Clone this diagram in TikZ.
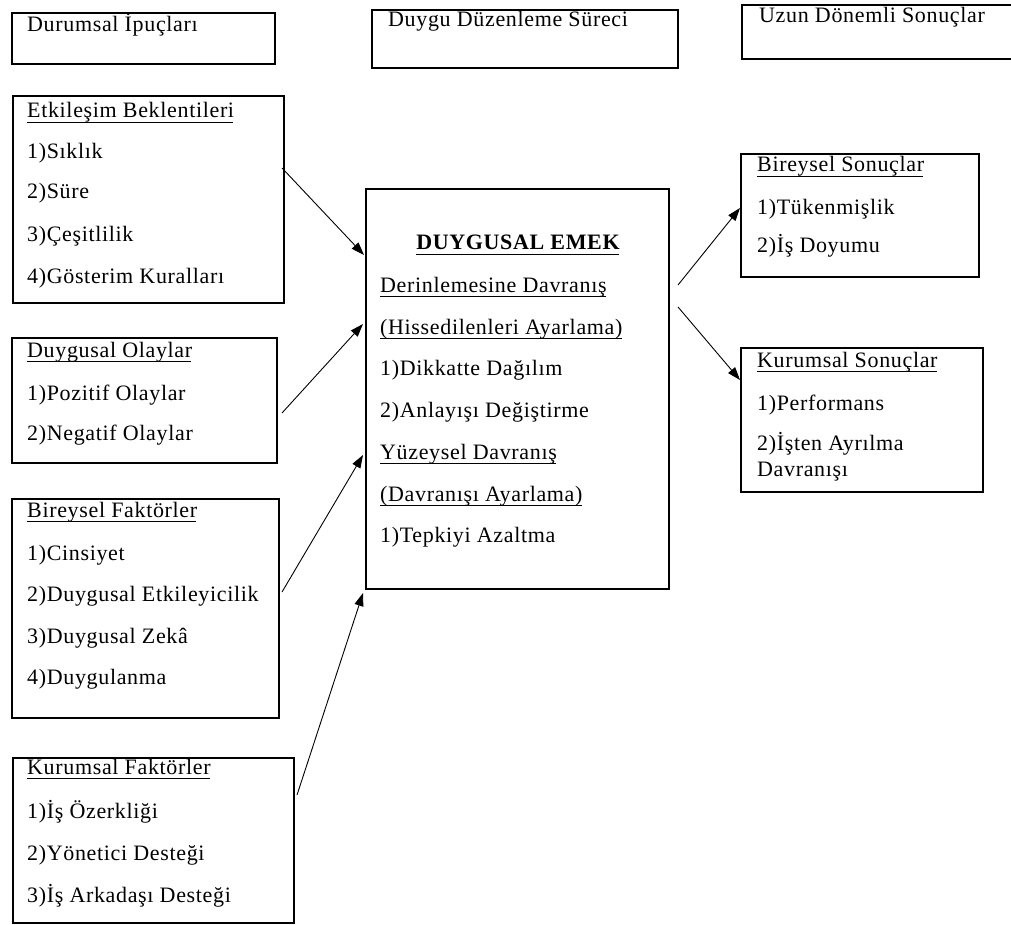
\documentclass[tikz,border=0pt]{standalone}
\usepackage{fontspec}
\setmainfont{Liberation Serif}[LetterSpace=3]
\usetikzlibrary{arrows.meta}
\tikzset{
  bx/.style={draw, line width=1.6pt, rectangle, inner sep=0pt, anchor=north west},
  tx/.style={anchor=base west, inner sep=0pt, font=\fontsize{22}{25}\selectfont},
  arr/.style={line width=0.9pt, -{Triangle[length=13pt,width=9pt]}},
  ulin/.style={line width=1.4pt}
}
\begin{document}
\begin{tikzpicture}[x=1pt,y=-1pt]
\useasboundingbox (0,0) rectangle (1011,925);
% top header boxes
\node[bx, minimum width=263pt, minimum height=51pt] (dur) at (11,12) {};
\node[tx] (durt) at (27,32) {Durumsal İpuçları};
\node[bx, minimum width=306pt, minimum height=58pt] (ddz) at (371,9) {};
\node[tx] (ddzt) at (388,27) {Duygu Düzenleme Süreci};
\node[bx, minimum width=275pt, minimum height=54pt] (uzun) at (741,4) {};
\node[tx] (uzunt) at (759,23) {Uzun Dönemli Sonuçlar};

% Etkileşim Beklentileri
\node[bx, minimum width=271pt, minimum height=207pt] (etk) at (12,95) {};
\node[tx] (etk0) at (27,118) {Etkileşim Beklentileri};
\node[tx] (etk1) at (27,159) {1)Sıklık};
\node[tx] (etk2) at (27,199) {2)Süre};
\node[tx] (etk3) at (27,241) {3)Çeşitlilik};
\node[tx] (etk4) at (27,283) {4)Gösterim Kuralları};

% Duygusal Olaylar
\node[bx, minimum width=265pt, minimum height=125pt] (olay) at (11,337) {};
\node[tx] (olay0) at (27,357) {Duygusal Olaylar};
\node[tx] (olay1) at (27,400) {1)Pozitif Olaylar};
\node[tx] (olay2) at (27,440) {2)Negatif Olaylar};

% Bireysel Faktörler
\node[bx, minimum width=267pt, minimum height=219pt] (bf) at (11,498) {};
\node[tx] (bf0) at (27,517) {Bireysel Faktörler};
\node[tx] (bf1) at (27,560) {1)Cinsiyet};
\node[tx] (bf2) at (27,601) {2)Duygusal Etkileyicilik};
\node[tx] (bf3) at (27,643) {3)Duygusal Zekâ};
\node[tx] (bf4) at (27,684) {4)Duygulanma};

% Kurumsal Faktörler
\node[bx, minimum width=281pt, minimum height=165pt] (kf) at (12,757) {};
\node[tx] (kf0) at (27,774) {Kurumsal Faktörler};
\node[tx] (kf1) at (27,818) {1)İş Özerkliği};
\node[tx] (kf2) at (27,860) {2)Yönetici Desteği};
\node[tx] (kf3) at (27,902) {3)İş Arkadaşı Desteği};

% Central box
\node[bx, minimum width=303pt, minimum height=400pt] (de) at (365,188) {};
\node[tx, anchor=base] (de0) at (518,250) {\bfseries DUYGUSAL EMEK};
\node[tx] (de1) at (380,292) {Derinlemesine Davranış};
\node[tx] (de2) at (380,334) {(Hissedilenleri Ayarlama)};
\node[tx] (de3) at (380,375) {1)Dikkatte Dağılım};
\node[tx] (de4) at (380,417) {2)Anlayışı Değiştirme};
\node[tx] (de5) at (380,459) {Yüzeysel Davranış};
\node[tx] (de6) at (380,501) {(Davranışı Ayarlama)};
\node[tx] (de7) at (380,542) {1)Tepkiyi Azaltma};

% Bireysel Sonuçlar
\node[bx, minimum width=238pt, minimum height=123pt] (bs) at (740,153) {};
\node[tx] (bs0) at (757,172) {Bireysel Sonuçlar};
\node[tx] (bs1) at (757,215) {1)Tükenmişlik};
\node[tx] (bs2) at (757,253) {2)İş Doyumu};

% Kurumsal Sonuçlar
\node[bx, minimum width=242pt, minimum height=144pt] (ks) at (740,347) {};
\node[tx] (ks0) at (757,367) {Kurumsal Sonuçlar};
\node[tx] (ks1) at (757,410) {1)Performans};
\node[tx] (ks2) at (757,450) {2)İşten Ayrılma};
\node[tx] (ks3) at (757,476) {Davranışı};

% underlines
\foreach \n in {etk0,olay0,bf0,kf0,de0,de1,de2,de5,de6,bs0,ks0}
  \draw[ulin] ([yshift=-4.5pt]\n.base west) -- ([yshift=-4.5pt,xshift=-1pt]\n.base east);

% connector end points
\coordinate (a1s) at (282,168);
\coordinate (a1e) at (364,255);
\coordinate (a2s) at (282,413);
\coordinate (a2e) at (363,324);
\coordinate (a3s) at (282,592);
\coordinate (a3e) at (363,455);
\coordinate (a4s) at (297,795);
\coordinate (a4e) at (363,593);
\coordinate (a5s) at (678,285);
\coordinate (a5e) at (740,208);
\coordinate (a6s) at (678,307);
\coordinate (a6e) at (740,380);

\draw[arr] (a1s) -- (a1e);
\draw[arr] (a2s) -- (a2e);
\draw[arr] (a3s) -- (a3e);
\draw[arr] (a4s) -- (a4e);
\draw[arr] (a5s) -- (a5e);
\draw[arr] (a6s) -- (a6e);
\end{tikzpicture}
\end{document}
